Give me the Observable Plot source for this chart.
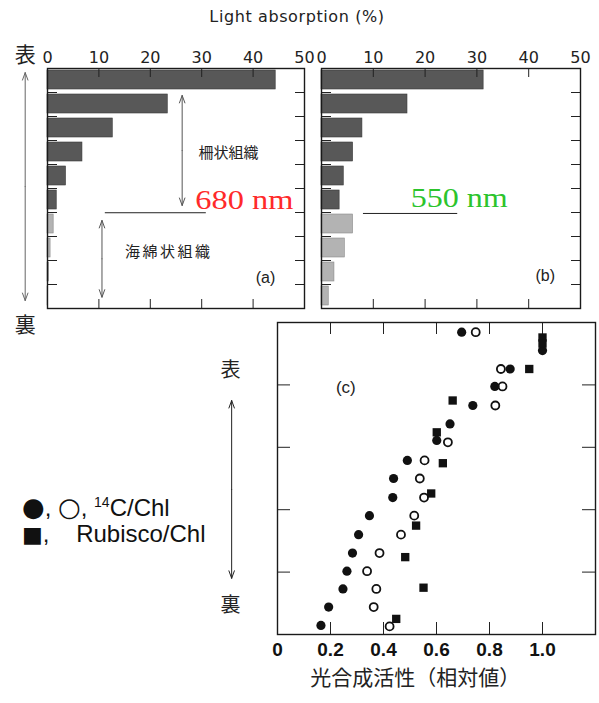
<!DOCTYPE html>
<html><head><meta charset="utf-8">
<script src="https://cdn.jsdelivr.net/npm/d3@7"></script>
<script src="https://cdn.jsdelivr.net/npm/@observablehq/plot@0.6"></script>
<style>
body{margin:0;background:#fff;}
#root{position:relative;width:599px;height:703px;overflow:hidden;background:#fff;}
#root svg{position:absolute;overflow:visible;}
.lbl{position:absolute;white-space:pre;color:#111;line-height:1;}
</style></head><body><div id="root"></div>
<script>
// ---------- data ----------
const layerIndex = [0,1,2,3,4,5,6,7,8,9];            // 0 = adaxial (表) side
const tissueOfLayer = ["palisade","palisade","palisade","palisade","palisade","palisade","spongy","spongy","spongy","spongy"];
const absorption680 = [44.4, 23.4, 12.7, 6.8, 3.6, 1.8, 1.2, 0.6, 0.3, 0.1];
const absorption550 = [31.3, 16.6, 7.9, 6.1, 4.3, 3.5, 6.1, 4.5, 2.5, 1.4];
const absorptionTicks = [0,10,20,30,40,50];
const rowBoundaries = [1,2,3,4,5,6,7,8,9];

// panel (c): relative depth (0 = adaxial) and relative photosynthetic activity
const filledDepth    = [0.031,0.090,0.149,0.205,0.266,0.325,0.378,0.442,0.500,0.561,0.619,0.680,0.739,0.797,0.854,0.912,0.971];
const filledActivity = [0.695,1.000,0.878,0.820,0.737,0.651,0.601,0.490,0.438,0.435,0.347,0.306,0.283,0.262,0.247,0.193,0.164];
const openDepth      = [0.031,0.149,0.205,0.266,0.384,0.442,0.500,0.561,0.619,0.680,0.739,0.797,0.854,0.912,0.974];
const openActivity   = [0.748,0.843,0.849,0.822,0.643,0.555,0.537,0.553,0.516,0.466,0.385,0.338,0.373,0.363,0.423];
const rubiscoDepth   = [0.048,0.067,0.149,0.250,0.352,0.451,0.548,0.651,0.752,0.850,0.950];
const rubiscoActivity= [1.000,1.000,0.950,0.661,0.601,0.624,0.580,0.523,0.482,0.551,0.448];
const activityTicks = [0,0.2,0.4,0.6,0.8,1.0];
const depthTicks = [0.2,0.4,0.6,0.8];

// ---------- annotations (in each panel's data units) ----------
const notesA = [
  {text:"柵状組織", x:35.2, y:3.54},
  {text:"海綿状組織", x:23.6, y:7.67}
];
const sideA = [{text:"表", x:-4.34, y:-0.54},{text:"裏", x:-4.34, y:10.71}];
const wavelengthA = [{text:"680 nm", x:38.3, y:5.5}];
const wavelengthB = [{text:"550 nm", x:26.6, y:5.38}];
const tagA = [{text:"(a)", x:42.4, y:8.71}];
const tagB = [{text:"(b)", x:43.2, y:8.63}];
const linesA = [{y:6.01, x1:11.25, x2:30.9}];
const linesB = [{y:6.04, x1:8.1, x2:26.3}];
const arrowsA = [{x:26.2, y1:1.12, y2:5.71},{x:10.6, y1:6.33, y2:9.53}];
const sideArrowA = [{x:-4.34, y1:0.17, y2:9.67}];
const notesC = [{text:"(c)", x:0.258, y:0.208}];
const sideC = [{text:"表", x:-0.177, y:0.154},{text:"裏", x:-0.177, y:0.907}];
const sideArrowC = [{x:-0.173, y1:0.25, y2:0.82}];
const titleC = [{text:"光合成活性（相対値）", x:0.52, y:1.141}];

// ---------- helpers ----------
const split = arr => arr.flatMap(a => { const m = (a.y1 + a.y2) / 2; return [{x:a.x, y1:m, y2:a.y1},{x:a.x, y1:m, y2:a.y2}]; });
const root = document.getElementById("root");
const CJK = "Noto Sans CJK JP";
function place(svg, left, top){ svg.style.left = left + "px"; svg.style.top = top + "px"; root.appendChild(svg); return svg; }

function absPanel(values, cfg){
  const data = layerIndex.map(i => ({row:i, v:values[i], tissue:tissueOfLayer[i]}));
  const fw = cfg.width - cfg.mL - cfg.mR, fh = 240;
  const marks = [
    Plot.rectX(data, {filter:d=>d.tissue==="palisade", x1:0, x2:"v", y1:"row", y2:d=>d.row+1, insetTop:2, insetBottom:3, fill:"#585858", stroke:"#3a3a3a", strokeWidth:0.6}),
    Plot.rectX(data, {filter:d=>d.tissue==="spongy", x1:0, x2:"v", y1:"row", y2:d=>d.row+1, insetTop:2, insetBottom:3, fill:"#b3b3b3", stroke:"#8a8a8a", strokeWidth:0.6}),
    Plot.tickX(absorptionTicks.slice(1,5), {x:d=>d, insetBottom:fh-9, stroke:"#222"}),
    Plot.tickX(absorptionTicks.slice(1,5), {x:d=>d, insetTop:fh-9, stroke:"#222"}),
    Plot.tickY(rowBoundaries, {y:d=>d, insetRight:fw-10, stroke:"#222"}),
    Plot.tickY(rowBoundaries, {y:d=>d, insetLeft:fw-9, stroke:"#222"}),
    Plot.frame({stroke:"#1a1a1a", strokeWidth:1.4}),
    Plot.axisX(absorptionTicks, {anchor:"top", tickSize:0, tickPadding:6, fontSize:16, fontFamily:"DejaVu Sans", fill:"#222", label:null}),
    Plot.ruleY(cfg.lines, {y:"y", x1:"x1", x2:"x2", stroke:"#222", strokeWidth:1}),
    Plot.text(cfg.wl, {x:"x", y:"y", text:"text", fontSize:28, fontFamily:"Liberation Serif", fill:cfg.wlColor}),
    Plot.text(cfg.tag, {x:"x", y:"y", text:"text", fontSize:16, fontFamily:"Liberation Sans", fill:"#222"})
  ];
  if (cfg.notes) marks.push(Plot.text(cfg.notes, {x:"x", y:"y", text:"text", fontSize:15, fontFamily:CJK, fill:"#222"}));
  if (cfg.arrows) marks.push(Plot.arrow(split(cfg.arrows), {x1:"x", x2:"x", y1:"y1", y2:"y2", stroke:"#555", strokeWidth:1, headLength:12, headAngle:40}));
  if (cfg.side) marks.push(Plot.text(cfg.side, {x:"x", y:"y", text:"text", fontSize:21, fontFamily:CJK, fill:"#222"}));
  if (cfg.sideArrow) marks.push(Plot.arrow(split(cfg.sideArrow), {x1:"x", x2:"x", y1:"y1", y2:"y2", stroke:"#666", strokeWidth:1, headLength:12, headAngle:40}));
  return Plot.plot({
    width:cfg.width, height:315, marginLeft:cfg.mL, marginRight:cfg.mR, marginTop:68, marginBottom:7,
    x:{domain:[0,50], label:null}, y:{domain:[0,10], reverse:true, axis:null, label:null},
    style:{background:"transparent", overflow:"visible"},
    marks
  });
}

const svgA = place(absPanel(absorption680, {width:310, mL:47, mR:6, lines:linesA, wl:wavelengthA, wlColor:"#ff2a2a", tag:tagA, notes:notesA, arrows:arrowsA, side:sideA, sideArrow:sideArrowA}), 0, 0);
const svgB = place(absPanel(absorption550, {width:289, mL:11, mR:19, lines:linesB, wl:wavelengthB, wlColor:"#2cc42c", tag:tagB}), 310, 0);

// stretch wavelength labels and spacing like the original
d3.select(svgA).selectAll("text").filter(function(){return this.textContent==="680 nm";}).attr("textLength",98).attr("lengthAdjust","spacingAndGlyphs");
d3.select(svgB).selectAll("text").filter(function(){return this.textContent==="550 nm";}).attr("textLength",97).attr("lengthAdjust","spacingAndGlyphs");
d3.select(svgA).selectAll("text").filter(function(){return this.textContent==="海綿状組織";}).attr("letter-spacing","2.5px");

// ---------- panel (c) ----------
const filledPts = filledDepth.map((d,i)=>({d, a:filledActivity[i]}));
const openPts = openDepth.map((d,i)=>({d, a:openActivity[i]}));
const rubiscoPts = rubiscoDepth.map((d,i)=>({d, a:rubiscoActivity[i]}));
const cfw = 318, cfh = 312;
const svgC = place(Plot.plot({
  width:599, height:388, marginLeft:277, marginRight:4, marginTop:7, marginBottom:69,
  x:{domain:[0,1.2], label:null}, y:{domain:[0,1], reverse:true, axis:null, label:null},
  style:{background:"transparent", overflow:"visible"},
  marks:[
    Plot.tickX(activityTicks.slice(1), {x:d=>d, insetBottom:cfh-12, stroke:"#222"}),
    Plot.tickX(activityTicks.slice(1), {x:d=>d, insetTop:cfh-12, stroke:"#222"}),
    Plot.tickY(depthTicks, {y:d=>d, insetRight:cfw-13, stroke:"#222"}),
    Plot.tickY(depthTicks, {y:d=>d, insetLeft:cfw-13, stroke:"#222"}),
    Plot.frame({stroke:"#1a1a1a", strokeWidth:1.4}),
    Plot.dot(openPts, {x:"a", y:"d", r:4, stroke:"#111", strokeWidth:1.8, fill:"white"}),
    Plot.dot(filledPts, {x:"a", y:"d", r:4.6, fill:"#111"}),
    Plot.dot(rubiscoPts, {x:"a", y:"d", symbol:"square", r:4.7, fill:"#111"}),
    Plot.axisX(activityTicks, {anchor:"bottom", tickSize:0, tickPadding:8, fontSize:19, fontWeight:"bold", fontFamily:"Liberation Sans", fill:"#111", label:null, tickFormat:d=>d===0?"0":d.toFixed(1)}),
    Plot.text(notesC, {x:"x", y:"y", text:"text", fontSize:17, fontFamily:"Liberation Sans", fill:"#222"}),
    Plot.text(sideC, {x:"x", y:"y", text:"text", fontSize:20, fontFamily:CJK, fill:"#222"}),
    Plot.arrow(split(sideArrowC), {x1:"x", x2:"x", y1:"y1", y2:"y2", stroke:"#222", strokeWidth:1, headLength:12, headAngle:40}),
    Plot.text(titleC, {x:"x", y:"y", text:"text", fontSize:21, fontFamily:CJK, fill:"#222"})
  ]
}), 0, 315);

// ---------- title and legend (HTML) ----------
function label(html, left, top, css){ const d = document.createElement("div"); d.className="lbl"; d.innerHTML = html; d.style.left=left+"px"; d.style.top=top+"px"; d.style.cssText += css; root.appendChild(d); return d; }
label("Light absorption (%)", 297, 9, "font-family:'DejaVu Sans';font-size:16px;letter-spacing:0.6px;color:#222;transform:translateX(-50%);");
label("<span style=\"font-family:'DejaVu Sans';font-size:26px\">●</span>, <span style=\"font-family:'DejaVu Sans';font-size:26px\">○</span>, <sup style=\"font-size:14px\">14</sup>C/Chl", 22, 494, "font-family:'Liberation Sans';font-size:24px;");
label("<span style=\"font-family:'DejaVu Sans';font-size:22px\">■</span>,    Rubisco/Chl", 22, 522, "font-family:'Liberation Sans';font-size:24px;");
</script></body></html>
